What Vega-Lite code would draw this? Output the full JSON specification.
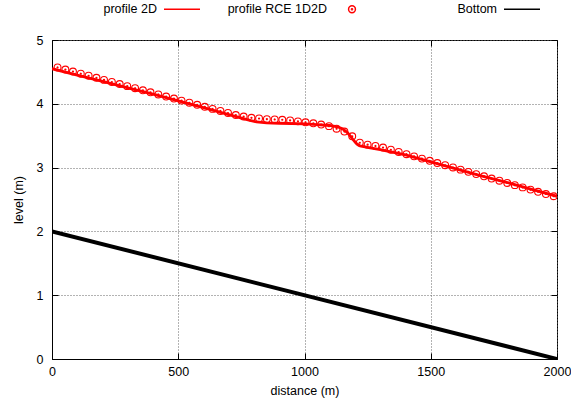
{
  "$schema": "https://vega.github.io/schema/vega-lite/v6.json",
  "autosize": {"type": "none"},
  "width": 505,
  "height": 319,
  "padding": {"left": 52, "top": 40, "right": 14, "bottom": 46},
  "background": "white",
  "datasets": {
    "profile": [
      {"series": "profile 2D", "x": 0, "level": 4.55},
      {"series": "profile 2D", "x": 100, "level": 4.45},
      {"series": "profile 2D", "x": 200, "level": 4.35},
      {"series": "profile 2D", "x": 300, "level": 4.25},
      {"series": "profile 2D", "x": 400, "level": 4.15},
      {"series": "profile 2D", "x": 500, "level": 4.045},
      {"series": "profile 2D", "x": 600, "level": 3.94},
      {"series": "profile 2D", "x": 700, "level": 3.83},
      {"series": "profile 2D", "x": 780, "level": 3.745},
      {"series": "profile 2D", "x": 810, "level": 3.715},
      {"series": "profile 2D", "x": 850, "level": 3.70},
      {"series": "profile 2D", "x": 900, "level": 3.695},
      {"series": "profile 2D", "x": 1000, "level": 3.685},
      {"series": "profile 2D", "x": 1050, "level": 3.675},
      {"series": "profile 2D", "x": 1100, "level": 3.66},
      {"series": "profile 2D", "x": 1130, "level": 3.64},
      {"series": "profile 2D", "x": 1150, "level": 3.61},
      {"series": "profile 2D", "x": 1170, "level": 3.55},
      {"series": "profile 2D", "x": 1190, "level": 3.45},
      {"series": "profile 2D", "x": 1205, "level": 3.38},
      {"series": "profile 2D", "x": 1220, "level": 3.34},
      {"series": "profile 2D", "x": 1260, "level": 3.31},
      {"series": "profile 2D", "x": 1300, "level": 3.28},
      {"series": "profile 2D", "x": 1400, "level": 3.20},
      {"series": "profile 2D", "x": 1500, "level": 3.09},
      {"series": "profile 2D", "x": 1600, "level": 2.98},
      {"series": "profile 2D", "x": 1700, "level": 2.87},
      {"series": "profile 2D", "x": 1800, "level": 2.77},
      {"series": "profile 2D", "x": 1900, "level": 2.66},
      {"series": "profile 2D", "x": 2000, "level": 2.55}
    ],
    "rce": [
      {"series": "profile RCE 1D2D", "x": 22, "level": 4.57},
      {"series": "profile RCE 1D2D", "x": 53, "level": 4.537},
      {"series": "profile RCE 1D2D", "x": 83, "level": 4.505},
      {"series": "profile RCE 1D2D", "x": 114, "level": 4.472},
      {"series": "profile RCE 1D2D", "x": 145, "level": 4.44},
      {"series": "profile RCE 1D2D", "x": 176, "level": 4.407},
      {"series": "profile RCE 1D2D", "x": 206, "level": 4.375},
      {"series": "profile RCE 1D2D", "x": 237, "level": 4.342},
      {"series": "profile RCE 1D2D", "x": 268, "level": 4.31},
      {"series": "profile RCE 1D2D", "x": 298, "level": 4.277},
      {"series": "profile RCE 1D2D", "x": 329, "level": 4.245},
      {"series": "profile RCE 1D2D", "x": 360, "level": 4.212},
      {"series": "profile RCE 1D2D", "x": 390, "level": 4.18},
      {"series": "profile RCE 1D2D", "x": 421, "level": 4.147},
      {"series": "profile RCE 1D2D", "x": 452, "level": 4.114},
      {"series": "profile RCE 1D2D", "x": 483, "level": 4.082},
      {"series": "profile RCE 1D2D", "x": 513, "level": 4.05},
      {"series": "profile RCE 1D2D", "x": 544, "level": 4.017},
      {"series": "profile RCE 1D2D", "x": 575, "level": 3.984},
      {"series": "profile RCE 1D2D", "x": 605, "level": 3.953},
      {"series": "profile RCE 1D2D", "x": 636, "level": 3.92},
      {"series": "profile RCE 1D2D", "x": 667, "level": 3.888},
      {"series": "profile RCE 1D2D", "x": 697, "level": 3.856},
      {"series": "profile RCE 1D2D", "x": 728, "level": 3.824},
      {"series": "profile RCE 1D2D", "x": 759, "level": 3.80},
      {"series": "profile RCE 1D2D", "x": 790, "level": 3.78},
      {"series": "profile RCE 1D2D", "x": 820, "level": 3.77},
      {"series": "profile RCE 1D2D", "x": 851, "level": 3.76},
      {"series": "profile RCE 1D2D", "x": 882, "level": 3.755},
      {"series": "profile RCE 1D2D", "x": 912, "level": 3.75},
      {"series": "profile RCE 1D2D", "x": 943, "level": 3.74},
      {"series": "profile RCE 1D2D", "x": 974, "level": 3.725},
      {"series": "profile RCE 1D2D", "x": 1004, "level": 3.71},
      {"series": "profile RCE 1D2D", "x": 1035, "level": 3.695},
      {"series": "profile RCE 1D2D", "x": 1066, "level": 3.675},
      {"series": "profile RCE 1D2D", "x": 1097, "level": 3.65},
      {"series": "profile RCE 1D2D", "x": 1127, "level": 3.61},
      {"series": "profile RCE 1D2D", "x": 1158, "level": 3.565},
      {"series": "profile RCE 1D2D", "x": 1189, "level": 3.49},
      {"series": "profile RCE 1D2D", "x": 1219, "level": 3.39},
      {"series": "profile RCE 1D2D", "x": 1250, "level": 3.36},
      {"series": "profile RCE 1D2D", "x": 1281, "level": 3.34},
      {"series": "profile RCE 1D2D", "x": 1311, "level": 3.315},
      {"series": "profile RCE 1D2D", "x": 1342, "level": 3.280},
      {"series": "profile RCE 1D2D", "x": 1373, "level": 3.245},
      {"series": "profile RCE 1D2D", "x": 1404, "level": 3.210},
      {"series": "profile RCE 1D2D", "x": 1434, "level": 3.176},
      {"series": "profile RCE 1D2D", "x": 1465, "level": 3.141},
      {"series": "profile RCE 1D2D", "x": 1496, "level": 3.106},
      {"series": "profile RCE 1D2D", "x": 1526, "level": 3.072},
      {"series": "profile RCE 1D2D", "x": 1557, "level": 3.037},
      {"series": "profile RCE 1D2D", "x": 1588, "level": 3.002},
      {"series": "profile RCE 1D2D", "x": 1618, "level": 2.968},
      {"series": "profile RCE 1D2D", "x": 1649, "level": 2.933},
      {"series": "profile RCE 1D2D", "x": 1680, "level": 2.898},
      {"series": "profile RCE 1D2D", "x": 1711, "level": 2.863},
      {"series": "profile RCE 1D2D", "x": 1741, "level": 2.829},
      {"series": "profile RCE 1D2D", "x": 1772, "level": 2.794},
      {"series": "profile RCE 1D2D", "x": 1803, "level": 2.759},
      {"series": "profile RCE 1D2D", "x": 1833, "level": 2.725},
      {"series": "profile RCE 1D2D", "x": 1864, "level": 2.690},
      {"series": "profile RCE 1D2D", "x": 1895, "level": 2.655},
      {"series": "profile RCE 1D2D", "x": 1925, "level": 2.621},
      {"series": "profile RCE 1D2D", "x": 1956, "level": 2.586},
      {"series": "profile RCE 1D2D", "x": 1987, "level": 2.551}
    ],
    "bottom": [
      {"series": "Bottom", "x": 0, "level": 2},
      {"series": "Bottom", "x": 2000, "level": 0}
    ]
  },
  "layer": [
    {
      "data": {"name": "bottom"},
      "mark": {"type": "line", "color": "#000000", "strokeWidth": 4, "clip": true},
      "encoding": {
        "x": {"field": "x", "type": "quantitative", "scale": {"domain": [0, 2000], "nice": false},
          "axis": {"orient": "top", "values": [0, 500, 1000, 1500, 2000], "labels": false, "title": null, "grid": false, "domain": false, "ticks": true, "tickSize": -6}},
        "y": {"field": "level", "type": "quantitative", "scale": {"domain": [0, 5], "nice": false},
          "axis": {"orient": "right", "values": [0, 1, 2, 3, 4, 5], "labels": false, "title": null, "grid": false, "domain": false, "ticks": true, "tickSize": -6}}
      }
    },
    {
      "data": {"name": "profile"},
      "mark": {"type": "line", "color": "#ff0000", "strokeWidth": 2.8, "clip": true},
      "encoding": {
        "x": {"field": "x", "type": "quantitative", "scale": {"domain": [0, 2000], "nice": false},
          "axis": {"orient": "bottom", "values": [0, 500, 1000, 1500, 2000], "format": "d", "title": "distance (m)", "grid": true, "ticks": true, "tickSize": -6, "labelPadding": 12, "titlePadding": 7}},
        "y": {"field": "level", "type": "quantitative", "scale": {"domain": [0, 5], "nice": false},
          "axis": {"orient": "left", "values": [0, 1, 2, 3, 4, 5], "format": "d", "title": "level (m)", "grid": true, "ticks": true, "tickSize": -6, "labelPadding": 15, "titlePadding": 11}}
      }
    },
    {
      "data": {"name": "rce"},
      "mark": {"type": "point", "filled": false, "size": 1296, "opacity": 1, "strokeWidth": 1.1, "clip": true},
      "encoding": {
        "x": {"field": "x", "type": "quantitative", "scale": {"domain": [0, 2000], "nice": false}, "axis": null},
        "y": {"field": "level", "type": "quantitative", "scale": {"domain": [0, 5], "nice": false}, "axis": null},
        "color": {"field": "series", "type": "nominal",
          "scale": {"domain": ["profile 2D", "profile RCE 1D2D", "Bottom"], "range": ["#ff0000", "#ff0000", "#000000"]},
          "legend": {"title": null, "encode": {"symbols": {"update": {"strokeWidth": {"signal": "datum.value === 'Bottom' ? 4 : datum.value === 'profile 2D' ? 2 : 1.1"}}}}}},
        "shape": {"field": "series", "type": "nominal",
          "scale": {"domain": ["profile 2D", "profile RCE 1D2D", "Bottom"], "range": [
            "M-8.083,0M-1,0L1,0",
            "M-8.083,0M0.19,0A0.19,0.19,0,1,1,-0.19,0A0.19,0.19,0,1,1,0.19,0ZM0.03,0A0.03,0.03,0,1,1,-0.03,0A0.03,0.03,0,1,1,0.03,0Z",
            "M-8.083,0M-1,0L1,0"]},
          "legend": {"title": null, "encode": {"symbols": {"update": {"strokeWidth": {"signal": "datum.value === 'Bottom' ? 4 : datum.value === 'profile 2D' ? 2 : 1.1"}}}}}}
      }
    }
  ],
  "resolve": {"axis": {"x": "independent", "y": "independent"}},
  "config": {
    "font": "Liberation Sans",
    "view": {"stroke": "#000000", "strokeWidth": 1},
    "axis": {
      "labelFont": "Liberation Sans", "titleFont": "Liberation Sans",
      "labelFontSize": 12.5, "titleFontSize": 12.5,
      "labelColor": "#000000", "titleColor": "#000000",
      "titleFontWeight": "normal",
      "domainColor": "#000000", "domainWidth": 1,
      "tickColor": "#000000", "tickWidth": 1,
      "gridColor": "#666666", "gridDash": [1, 2], "gridWidth": 1, "gridOpacity": 1,
      "labelFlush": false, "labelOverlap": false
    },
    "legend": {
      "orient": "none", "legendX": 111, "legendY": -50,
      "direction": "horizontal", "columns": 3, "gridAlign": "all", "columnPadding": 0,
      "padding": 0, "symbolSize": 1296, "symbolOffset": 0,
      "labelAlign": "right", "labelOffset": -44, "labelBaseline": "middle",
      "labelFont": "Liberation Sans", "labelFontSize": 12.5, "labelColor": "#000000", "labelLimit": 400
    }
  }
}
